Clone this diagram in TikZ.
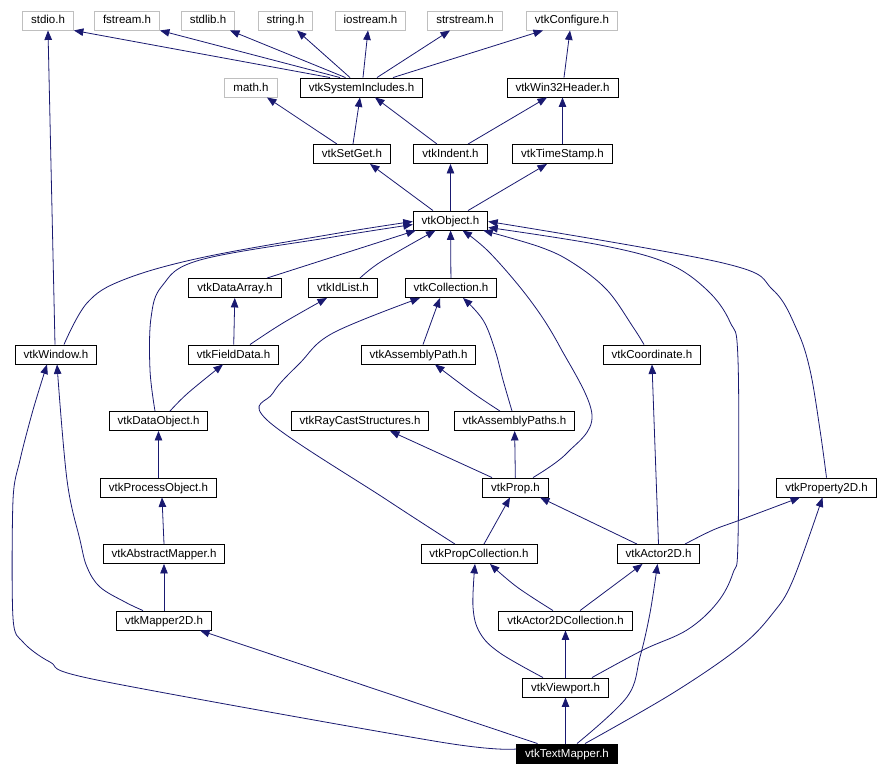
\documentclass[tikz,border=0pt]{standalone}
\usepackage{fontspec}
\setmainfont{Liberation Sans}
\usepackage{tikz}
\usetikzlibrary{arrows.meta}
\definecolor{depblue}{RGB}{25,25,112}
\definecolor{sysgray}{RGB}{191,191,191}

\begin{document}
\begin{tikzpicture}[x=1pt,y=-1pt,font=\fontsize{11.5}{13}\selectfont,
  hdr/.style={draw=black,line width=0.9pt,fill=white,inner xsep=8.5pt,inner ysep=0pt,
    text height=9pt,text depth=2pt,minimum height=19pt},
  syshdr/.style={hdr,draw=sysgray},
  curhdr/.style={hdr,fill=black,text=white},
  dep/.style={depblue,line width=0.8pt,-{Triangle[length=9.5pt,width=7.5pt]}}]
  \useasboundingbox (0,0) rectangle (880,776);
  % system headers
  \node[syshdr] (stdio)     at (48,20.5)    {stdio.h};
  \node[syshdr] (fstream)   at (127,20.5)   {fstream.h};
  \node[syshdr] (stdlib)    at (208,20.5)   {stdlib.h};
  \node[syshdr] (string)    at (285.5,20.5) {string.h};
  \node[syshdr] (iostream)  at (370.5,20.5) {iostream.h};
  \node[syshdr] (strstream) at (465,20.5)   {strstream.h};
  \node[syshdr] (config)    at (572,20.5)   {vtkConfigure.h};
  \node[syshdr] (math)      at (251,87.5)   {math.h};
  % vtk headers, row by row
  \node[hdr] (sysinc)     at (361.5,87.5)  {vtkSystemIncludes.h};
  \node[hdr] (win32)      at (562.5,87.5)  {vtkWin32Header.h};
  \node[hdr] (setget)     at (352,154)     {vtkSetGet.h};
  \node[hdr] (indent)     at (450.5,154)   {vtkIndent.h};
  \node[hdr] (timestamp)  at (562.5,154)   {vtkTimeStamp.h};
  \node[hdr] (object)     at (450.5,220.5) {vtkObject.h};
  \node[hdr] (dataarray)  at (235,288)     {vtkDataArray.h};
  \node[hdr] (idlist)     at (343,288)     {vtkIdList.h};
  \node[hdr] (collection) at (451,288)     {vtkCollection.h};
  \node[hdr] (window)     at (56,354.5)    {vtkWindow.h};
  \node[hdr] (fielddata)  at (233.5,354.5) {vtkFieldData.h};
  \node[hdr] (asmpath)    at (418.5,354.5) {vtkAssemblyPath.h};
  \node[hdr] (coordinate) at (652,354.5)   {vtkCoordinate.h};
  \node[hdr] (dataobject) at (158.5,421)   {vtkDataObject.h};
  \node[hdr] (raycast)    at (360,421)     {vtkRayCastStructures.h};
  \node[hdr] (asmpaths)   at (514.5,421)   {vtkAssemblyPaths.h};
  \node[hdr] (procobject) at (158.5,487.5) {vtkProcessObject.h};
  \node[hdr] (prop)       at (515.5,487.5) {vtkProp.h};
  \node[hdr] (property2d) at (826.5,487.5) {vtkProperty2D.h};
  \node[hdr] (absmapper)  at (164,554)     {vtkAbstractMapper.h};
  \node[hdr] (propcoll)   at (479,554)     {vtkPropCollection.h};
  \node[hdr] (actor2d)    at (658.5,554)   {vtkActor2D.h};
  \node[hdr] (mapper2d)   at (164,620.5)   {vtkMapper2D.h};
  \node[hdr] (actorcoll)  at (565.5,620.5) {vtkActor2DCollection.h};
  \node[hdr] (viewport)   at (565.5,687.5) {vtkViewport.h};
  \node[curhdr] (textmapper) at (567,753.5) {vtkTextMapper.h};

  % top of the tree
  \draw[dep] ([xshift=-31.5]sysinc.north) -- (stdio.south east);
  \draw[dep] ([xshift=-21.5]sysinc.north) -- (fstream.south east);
  \draw[dep] ([xshift=-16]sysinc.north) -- ([xshift=22]stdlib.south);
  \draw[dep] ([xshift=-11.5]sysinc.north) -- ([xshift=11.5]string.south);
  \draw[dep] ([xshift=1.5]sysinc.north) -- ([xshift=-2.5]iostream.south);
  \draw[dep] ([xshift=15.5]sysinc.north) -- ([xshift=-15]strstream.south);
  \draw[dep] ([xshift=31.5]sysinc.north) -- ([xshift=-29]config.south);
  \draw[dep] ([xshift=-15]setget.north) -- ([xshift=16]math.south);
  \draw[dep] ([xshift=1]setget.north) -- ([xshift=-1.5]sysinc.south);
  \draw[dep] ([xshift=-13.5]indent.north) -- ([xshift=13.5]sysinc.south);
  \draw[dep] ([xshift=17.5]indent.north) -- ([xshift=-15.5]win32.south);
  \draw[dep] (timestamp) -- (win32);
  \draw[dep] ([xshift=1.5]win32.north) -- ([xshift=-2]config.south);
  \draw[dep] ([xshift=-17.5]object.north) -- ([xshift=18]setget.south);
  \draw[dep] (object) -- (indent);
  \draw[dep] ([xshift=17.5]object.north) -- ([xshift=-15.5]timestamp.south);

  % everything that pulls in vtkObject.h
  \draw[dep] plot[smooth,tension=.6] coordinates {([xshift=8]window.north) (87,303) (123,280) (200,258) (333,234) ([yshift=-1]object.west)};
  \draw[dep] plot[smooth,tension=.6] coordinates {([xshift=-3.5]dataobject.north) (150,370) (151,318) (162,286) (200,260) (333,237) ([yshift=-4]object.west)};
  \draw[dep] ([xshift=32]dataarray.north) -- ([xshift=3]object.south west);
  \draw[dep] plot[smooth,tension=.6] coordinates {([xshift=17]idlist.north) (382,261) ([xshift=-15]object.south)};
  \draw[dep] (collection) -- (object);
  \draw[dep] plot[smooth,tension=.6] coordinates {([xshift=17.5]prop.north) (567,453) (592,415) (560,347) (530,300) (490,253) ([xshift=12]object.south)};
  \draw[dep] plot[smooth,tension=.6] coordinates {([xshift=-8]coordinate.north) (633,327) (607,290) (573,263) (540,247) ([xshift=-5]object.south east)};
  \draw[dep] plot[smooth,tension=.6] coordinates {([xshift=26.5]viewport.north) (643,650) (687,630) (717,603) (733,573) (738,540) (738,360) (730,322) (707,290) (667,263) (600,245) ([yshift=3]object.south east)};
  \draw[dep] plot[smooth,tension=.6] coordinates {(property2d.north) (820,430) (810,370) (797,330) (773,290) (723,263) ([yshift=-1]object.east)};

  % data objects and mappers
  \draw[dep] (fielddata) -- (dataarray);
  \draw[dep] plot[smooth,tension=.6] coordinates {([xshift=16.5]fielddata.north) (283,323) ([xshift=-16]idlist.south)};
  \draw[dep] plot[smooth,tension=.6] coordinates {([xshift=11.5]dataobject.north) (188,393) ([xshift=-10.5]fielddata.south)};
  \draw[dep] (procobject) -- (dataobject);
  \draw[dep] (absmapper.north) -- ([xshift=3.5]procobject.south);
  \draw[dep] (mapper2d) -- (absmapper);
  \draw[dep] ([xshift=-1]window.north) -- (stdio.south);
  \draw[dep] plot[smooth,tension=.6] coordinates {([xshift=-21]mapper2d.north) (125,602) (100,587) (87,567) (80,540) (67,480) ([xshift=1]window.south)};

  % collections and props
  \draw[dep] plot[smooth,tension=.6] coordinates {([xshift=-24]propcoll.north) (387,500) (267,420) (273,393) (300,363) (333,333) ([xshift=-31]collection.south)};
  \draw[dep] plot[smooth,tension=.6] coordinates {([xshift=4.5]asmpath.north) (433,317) ([xshift=-11]collection.south)};
  \draw[dep] plot[smooth,tension=.6] coordinates {([xshift=-2.5]asmpaths.north) (503,380) (495,350) (483,320) ([xshift=12]collection.south)};
  \draw[dep] plot[smooth,tension=.6] coordinates {([xshift=-14.5]asmpaths.north) (473,393) ([xshift=16.5]asmpath.south)};
  \draw[dep] ([xshift=-23.5]prop.north) -- ([xshift=30]raycast.south);
  \draw[dep] (prop) -- (asmpaths);
  \draw[dep] ([xshift=5]propcoll.north) -- ([xshift=-5.5]prop.south);
  \draw[dep] ([xshift=-21.5]actor2d.north) -- ([xshift=24.5]prop.south);
  \draw[dep] (actor2d.north) -- (coordinate.south);
  \draw[dep] plot[smooth,tension=.6] coordinates {([xshift=26.5]actor2d.north) (713,530) (740,520) ([xshift=-26.5]property2d.south)};
  \draw[dep] plot[smooth,tension=.6] coordinates {([xshift=-12.5]actorcoll.north) (517,587) ([xshift=11]propcoll.south)};
  \draw[dep] ([xshift=14.5]actorcoll.north) -- ([xshift=-16]actor2d.south);
  \draw[dep] plot[smooth,tension=.6] coordinates {([xshift=-22.5]viewport.north) (500,653) (480,633) (473,607) ([xshift=-4]propcoll.south)};
  \draw[dep] (viewport) -- (actorcoll);

  % vtkTextMapper.h itself
  \draw[dep] ([xshift=-1.5]textmapper.north) -- (viewport.south);
  \draw[dep] ([xshift=-29.5]textmapper.north) -- ([xshift=36]mapper2d.south);
  \draw[dep] plot[smooth,tension=.5] coordinates {([yshift=4.5]textmapper.west) (440,742) (97,680) (50,662) (23,642) (13,618) (13,500) (20,460) (33,410) ([xshift=-9]window.south)};
  \draw[dep] plot[smooth,tension=.6] coordinates {([xshift=10]textmapper.north) (627,697) (640,657) (650,613) ([xshift=-1]actor2d.south)};
  \draw[dep] plot[smooth,tension=.6] coordinates {([xshift=18]textmapper.north) (673,693) (740,647) (773,613) (793,580) ([xshift=-4]property2d.south)};
\end{tikzpicture}
\end{document}
